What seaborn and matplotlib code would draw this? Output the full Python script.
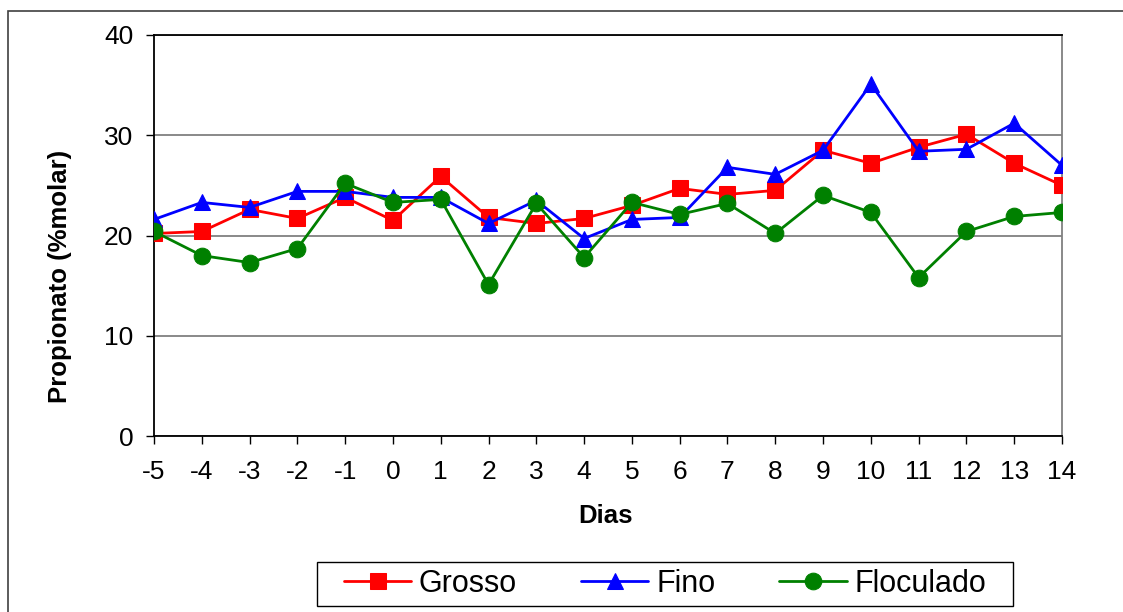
import matplotlib
matplotlib.use("Agg")
import matplotlib.pyplot as plt
import seaborn as sns
import pandas as pd
from matplotlib.patches import Rectangle

dias = [-5, -4, -3, -2, -1, 0, 1, 2, 3, 4, 5, 6, 7, 8, 9, 10, 11, 12, 13, 14]
grosso = [20.2, 20.4, 22.6, 21.7, 23.8, 21.5, 25.9, 21.8, 21.2, 21.7,
          23.0, 24.7, 24.1, 24.5, 28.5, 27.2, 28.8, 30.1, 27.2, 25.0]
fino = [21.6, 23.3, 22.8, 24.4, 24.4, 23.8, 23.8, 21.2, 23.5, 19.7,
        21.6, 21.8, 26.8, 26.1, 28.5, 35.1, 28.4, 28.6, 31.2, 27.0]
floculado = [20.4, 18.0, 17.3, 18.7, 25.2, 23.3, 23.6, 15.1, 23.2, 17.8,
             23.3, 22.1, 23.2, 20.2, 24.0, 22.3, 15.8, 20.4, 21.9, 22.3]

sns.set_style("white")
plt.rcParams['font.family'] = ['Liberation Sans', 'DejaVu Sans']
plt.rcParams['axes.unicode_minus'] = False
plt.rcParams['text.color'] = 'black'
plt.rcParams['axes.labelcolor'] = 'black'

W, H = 1123, 612
fig = plt.figure(figsize=(W / 100, H / 100), dpi=100)
ax = fig.add_axes([154 / W, 1 - 436 / H, (1062 - 154) / W, (436 - 35) / H])

series = [("Grosso", grosso, "#ff0000", "s"),
          ("Fino", fino, "#0000ff", "^"),
          ("Floculado", floculado, "#008000", "o")]
for name, vals, col, mk in series:
    df = pd.DataFrame({"Dias": dias, "v": vals})
    sns.lineplot(data=df, x="Dias", y="v", ax=ax, color=col, marker=mk,
                 markersize=12, markeredgecolor=col, linewidth=2.0, label=name,
                 legend=False, zorder=3)

ax.set_xlim(-5, 14)
ax.set_ylim(0, 40)
ax.set_xticks(dias)
ax.set_yticks([0, 10, 20, 30, 40])
ax.yaxis.grid(True, color="#808080", linewidth=1.3)
ax.xaxis.grid(False)
ax.tick_params(axis="both", which="both", direction="out", length=6,
               width=1, colors="#000000", labelsize=19, left=True, bottom=True)
ax.tick_params(axis="x", pad=11)
ax.tick_params(axis="y", pad=9)
for s in ["left", "bottom", "top"]:
    ax.spines[s].set_color("black")
    ax.spines[s].set_linewidth(1.3)
ax.spines["right"].set_color("#808080")
ax.spines["right"].set_linewidth(1.3)

ax.set_xlabel("Dias", fontsize=18.5, fontweight="bold", color="black")
ax.set_ylabel("Propionato (%molar)", fontsize=18.5, fontweight="bold", color="black")
ax.xaxis.label.set_va("center")
ax.yaxis.label.set_va("center")
ax.xaxis.set_label_coords((606 - 154) / 908, (436 - 516) / 401)
ax.yaxis.set_label_coords((60 - 154) / 908, (436 - 276) / 401)

handles, labels = ax.get_legend_handles_labels()
leg = fig.legend(handles, labels, loc="center", ncol=3,
                 bbox_to_anchor=(665 / W, 1 - 584 / H), fontsize=22,
                 frameon=False, handlelength=2.2, columnspacing=2.1,
                 handletextpad=0.25, borderpad=0.2, labelcolor="black")

# legend box
fig.patches.append(Rectangle((317 / W, 1 - 606 / H), (1013 - 317) / W, 44 / H,
                             transform=fig.transFigure, fill=False,
                             edgecolor="black", linewidth=1.0))
# outer chart frame
fig.patches.append(Rectangle((8 / W, -0.05), 1.2, 1 - 11 / H + 0.05,
                             transform=fig.transFigure, fill=False,
                             edgecolor="#404040", linewidth=1.2))

fig.savefig("out.png", dpi=100)
